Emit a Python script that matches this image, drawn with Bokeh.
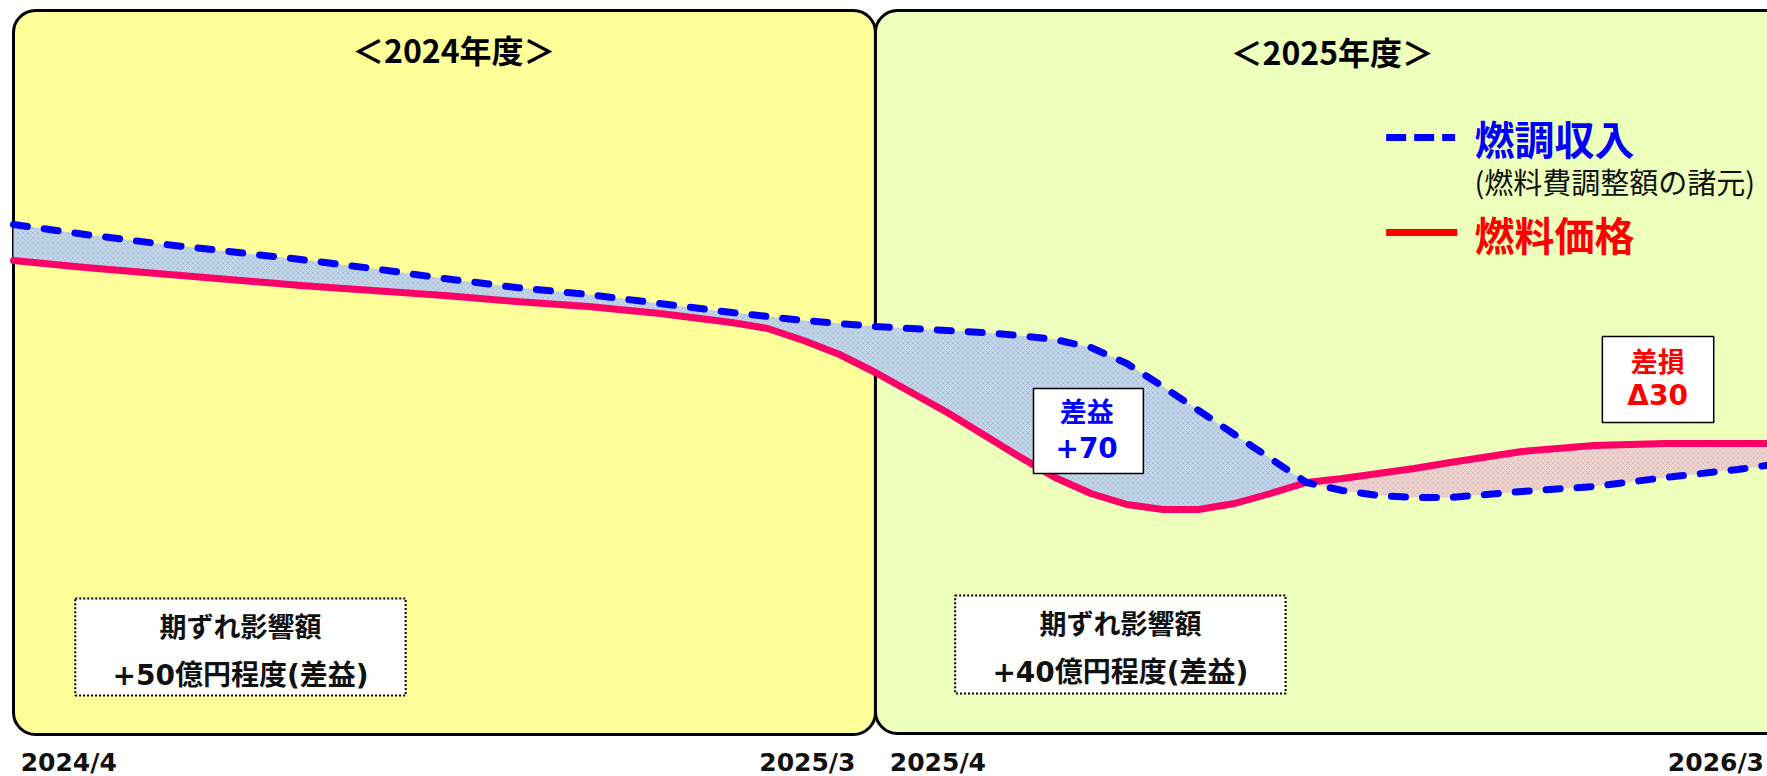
from bokeh.plotting import figure
from bokeh.models import Range1d
from bokeh.core.properties import value
from bokeh.embed import file_html
from bokeh.resources import INLINE

# ---------------- data ----------------
# x: months since 2024/4 (0 = 2024/4 start, 12 = 2025/4 start)
months = [0, 1, 2, 3, 4, 5, 6, 7, 8, 9, 10, 10.5, 11, 11.5, 12, 12.5, 13, 13.5, 14, 14.5,
          15, 15.5, 16, 16.5, 17, 17.5, 18, 18.5, 19, 19.5, 20, 21, 22, 23, 24, 24.5]
# 燃調収入 (fuel adjustment revenue), arbitrary index
fuel_revenue = [54.4, 53.4, 52.5, 51.7, 50.9, 50.0, 49.0, 48.1, 47.4, 46.5, 45.6, 45.2, 44.8,
                44.5, 44.2, 44.0, 43.8, 43.6, 43.3, 42.9, 42.1, 40.5, 38.2, 35.8, 33.4, 31.0,
                28.6, 27.8, 27.3, 27.1, 27.1, 27.7, 28.2, 29.1, 29.9, 30.4]
# 燃料価格 (fuel price), arbitrary index
fuel_price = [50.8, 50.1, 49.5, 48.9, 48.3, 47.8, 47.3, 46.7, 46.2, 45.5, 44.6, 44.0, 42.8,
              41.4, 39.6, 37.6, 35.6, 33.4, 31.2, 29.1, 27.5, 26.4, 25.9, 25.9, 26.5, 27.5,
              28.6, 29.0, 29.5, 30.0, 30.6, 31.7, 32.3, 32.5, 32.5, 32.5]
cross_month = 18

fiscal_titles = ["＜2024年度＞", "＜2025年度＞"]
panel_left = [0.0, 12.0]
panel_right = [12.0, 24.75]
panel_colors = ["#ffff99", "#eeffbb"]

tick_labels = ["2024/4", "2025/3", "2025/4", "2026/3"]

lag_titles = ["期ずれ影響額", "期ずれ影響額"]
lag_values = ["+50億円程度(差益)", "+40億円程度(差益)"]

gain_label = ["差益", "+70"]
loss_label = ["差損", "Δ30"]

legend_labels = ["燃調収入", "燃料価格"]
legend_note = "(燃料費調整額の諸元)"

assert len(months) == len(fuel_revenue) == len(fuel_price)

# ---------------- figure ----------------
p = figure(width=1767, height=776, x_range=Range1d(-0.181, 24.419), y_range=Range1d(-0.8, 76.8),
           output_backend="svg", toolbar_location=None, min_border=0,
           x_axis_location=None, y_axis_location=None)
p.grid.visible = False
p.outline_line_color = None
p.background_fill_color = "white"
p.border_fill_color = "white"

CJK = value("Noto Sans CJK JP")
MIX = value("DejaVu Sans, Noto Sans CJK JP")

# panels
p.quad(left=panel_left, right=panel_right, top=[75.8, 75.8], bottom=[3.4, 3.5],
       fill_color=panel_colors, line_color="black", line_width=3, border_radius=22)

# panel titles
p.text(x=[6.13, 18.36], y=[72.0, 71.8], text=fiscal_titles,
       text_font=CJK, text_font_size="32px", text_font_style="bold", text_color="black",
       text_align="center", text_baseline="middle")

# filled gaps
k = months.index(cross_month)
p.varea(x=months[:k + 1], y1=fuel_revenue[:k + 1], y2=fuel_price[:k + 1],
        fill_color="#c2d6ec", hatch_pattern="diagonal_cross", hatch_color="#8797ab",
        hatch_alpha=0.45, hatch_scale=5, hatch_weight=0.7)
p.varea(x=months[k:], y1=fuel_revenue[k:], y2=fuel_price[k:],
        fill_color="#efd4d0", hatch_pattern="diagonal_cross", hatch_color="#b39a9a",
        hatch_alpha=0.45, hatch_scale=5, hatch_weight=0.7)

# lines
p.line(months, fuel_price, line_color="#ff0066", line_width=7, line_cap="round", line_join="round")
p.line(months, fuel_revenue, line_color="#0000ff", line_width=7, line_dash="14 17",
       line_cap="round", line_join="round")

# gain / loss boxes
p.quad(left=[14.20, 22.12], right=[15.73, 23.67], top=[38.0, 43.2], bottom=[29.5, 34.6],
       fill_color="white", line_color="black", line_width=1.5)
p.text(x=[14.94, 22.89], y=[35.8, 40.8], text=[gain_label[0], loss_label[0]],
       text_font=CJK, text_font_size="27px", text_font_style="bold",
       text_color=["#0000ff", "#ff0000"], text_align="center", text_baseline="middle")
p.text(x=[14.94, 22.89], y=[32.1, 37.3], text=[gain_label[1], loss_label[1]],
       text_font=MIX, text_font_size="28px", text_font_style="bold",
       text_color=["#0000ff", "#ff0000"], text_align="center", text_baseline="middle")

# lag-impact boxes
p.quad(left=[0.86, 13.11], right=[5.46, 17.71], top=[17.0, 17.3], bottom=[7.3, 7.5],
       fill_color="white", line_color="black", line_width=2, line_dash="2 2")
p.text(x=[3.16, 15.41], y=[14.3, 14.6], text=lag_titles,
       text_font=CJK, text_font_size="27px", text_font_style="bold", text_color="#111111",
       text_align="center", text_baseline="middle")
p.text(x=[3.16, 15.41], y=[9.3, 9.6], text=lag_values,
       text_font=MIX, text_font_size="28px", text_font_style="bold", text_color="#111111",
       text_align="center", text_baseline="middle")

# legend keys and labels
p.segment(x0=[19.11], y0=[63.1], x1=[20.07], y1=[63.1], line_color="#0000ff", line_width=7,
          line_dash="20 8")
p.segment(x0=[19.11], y0=[53.6], x1=[20.10], y1=[53.6], line_color="#ff0000", line_width=7)
p.text(x=[20.34, 20.34], y=[63.1, 53.5], text=legend_labels,
       text_font=CJK, text_font_size="40px", text_font_style="bold",
       text_color=["#0000ff", "#ff0000"], text_align="left", text_baseline="middle")
p.text(x=[20.34], y=[58.8], text=[legend_note],
       text_font=CJK, text_font_size="29px", text_color="#111111",
       text_align="left", text_baseline="middle")

# bottom period labels
p.text(x=[0.10, 11.72, 12.20, 24.37], y=[0.6] * 4, text=tick_labels,
       text_font=value("DejaVu Sans"), text_font_size="25px", text_font_style="bold",
       text_color="#111111", text_align=["left", "right", "left", "right"],
       text_baseline="middle")

open("out.html", "w").write(file_html(p, INLINE))
